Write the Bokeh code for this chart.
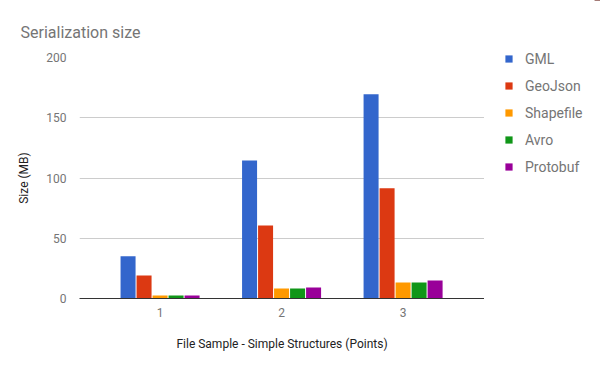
from bokeh.plotting import figure
from bokeh.models import ColumnDataSource, Range1d, FixedTicker, Legend, LegendItem
from bokeh.layouts import row
from bokeh.transform import dodge
from bokeh.embed import file_html
from bokeh.resources import INLINE

samples = [1, 2, 3]
series = ["GML", "GeoJson", "Shapefile", "Avro", "Protobuf"]
gml = [35, 114.5, 169.5]
geojson = [19, 60.5, 91.5]
shapefile = [2.5, 8.3, 13.3]
avro = [2.5, 8.3, 13.3]
protobuf = [2.5, 9.2, 15]
colors = ["#3366cc", "#dc3912", "#ff9900", "#109618", "#990099"]
y_ticks = [0, 50, 100, 150, 200]

FONT = "Roboto"

src = ColumnDataSource(dict(x=samples, GML=gml, GeoJson=geojson, Shapefile=shapefile,
                            Avro=avro, Protobuf=protobuf))

p = figure(width=484, height=371, output_backend="svg", toolbar_location=None,
           x_range=Range1d(0.337, 3.67), y_range=Range1d(0, 200),
           min_border_left=79, min_border_right=0, min_border_top=57, min_border_bottom=73)

p.title.text = "Serialization size"
p.title.text_font = FONT
p.title.text_font_size = "16px"
p.title.text_font_style = "normal"
p.title.text_color = "#757575"
p.title.align = "left"
p.title.offset = -59
p.title.standoff = 32

step = 0.1317
width = 0.1235
for i, (name, col) in enumerate(zip(series, colors)):
    p.vbar(x=dodge("x", (i - 2) * step, range=p.x_range), top=name, width=width,
           source=src, fill_color=col, line_color=None)

p.outline_line_color = None
p.background_fill_color = "white"
p.border_fill_color = "white"

# axes
p.xaxis.ticker = FixedTicker(ticks=samples)
p.xaxis.axis_line_color = "#333333"
p.xaxis.axis_line_width = 1
p.xaxis.major_tick_line_color = None
p.xaxis.minor_tick_line_color = None
p.xaxis.major_label_standoff = 3
p.xaxis.major_label_text_font = FONT
p.xaxis.major_label_text_font_size = "12px"
p.xaxis.major_label_text_color = "#757575"
p.xaxis.axis_label = "File Sample - Simple Structures (Points)"
p.xaxis.axis_label_text_font = FONT
p.xaxis.axis_label_text_font_size = "12px"
p.xaxis.axis_label_text_font_style = "normal"
p.xaxis.axis_label_text_color = "#222222"
p.xaxis.axis_label_standoff = 17

p.yaxis.ticker = FixedTicker(ticks=y_ticks)
p.yaxis.axis_line_color = None
p.yaxis.major_tick_line_color = None
p.yaxis.minor_tick_line_color = None
p.yaxis.major_label_standoff = 7
p.yaxis.major_label_text_font = FONT
p.yaxis.major_label_text_font_size = "12px"
p.yaxis.major_label_text_color = "#757575"
p.yaxis.axis_label = "Size (MB)"
p.yaxis.axis_label_text_font = FONT
p.yaxis.axis_label_text_font_size = "12px"
p.yaxis.axis_label_text_font_style = "normal"
p.yaxis.axis_label_text_color = "#222222"
p.yaxis.axis_label_standoff = 12

p.xgrid.grid_line_color = None
p.ygrid.grid_line_color = "#cccccc"
p.ygrid.grid_line_width = 1

# legend panel (separate figure to the right of the chart)
pl = figure(width=116, height=371, output_backend="svg", toolbar_location=None,
            x_range=Range1d(0, 1), y_range=Range1d(-20, -10),
            x_axis_type=None, y_axis_type=None, min_border=0)
pl.frame_align = False
pl.outline_line_color = None
pl.xgrid.visible = False
pl.ygrid.visible = False
leg_renderers = []
for i, (name, col) in enumerate(zip(series, colors)):
    r = pl.vbar(x=dodge("x", 0, range=pl.x_range), top=name, width=0.1,
                source=src, fill_color=col, line_color=None)
    leg_renderers.append(r)

legend = Legend(items=[LegendItem(label=n, renderers=[r]) for n, r in zip(series, leg_renderers)],
                location=(20, 196), orientation="vertical")
legend.border_line_color = None
legend.background_fill_alpha = 0
legend.padding = 0
legend.margin = 0
legend.spacing = 10
legend.glyph_width = 9
legend.glyph_height = 9
legend.label_height = 17
legend.label_standoff = 12
legend.label_text_font = FONT
legend.label_text_font_size = "14px"
legend.label_text_color = "#757575"
pl.add_layout(legend, "center")

layout = row(p, pl)
open("out.html", "w").write(file_html(layout, INLINE))
